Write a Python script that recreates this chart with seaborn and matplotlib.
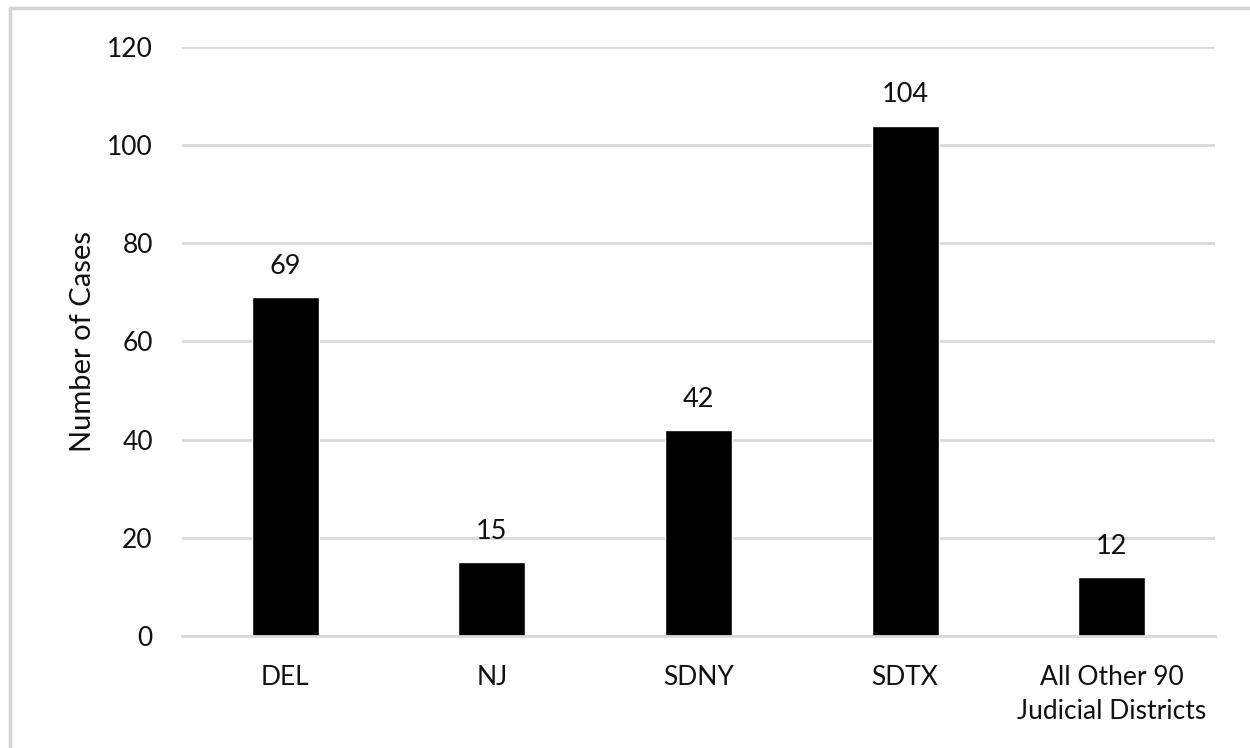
import matplotlib.pyplot as plt
import matplotlib.patches as patches
import seaborn as sns
import pandas as pd

# Dades
districtes = ['DEL', 'NJ', 'SDNY', 'SDTX', 'All Other 90\nJudicial Districts']
casos = [69, 15, 42, 104, 12]
ticks_y = [0, 20, 40, 60, 80, 100, 120]

df = pd.DataFrame({'Districte': districtes, 'Casos': casos})

sns.set_theme(style="white")
plt.rcParams['font.family'] = ['Lato', 'DejaVu Sans']

fig = plt.figure(figsize=(12.5, 7.48), dpi=100)
ax = fig.add_axes([0.1456, 0.1497, 0.8264, 0.7875])

sns.barplot(data=df, x='Districte', y='Casos', color='black',
            width=0.325, saturation=1, ax=ax)

ax.set_ylim(0, 120)
ax.set_yticks(ticks_y)
ax.yaxis.grid(True, color='#d9d9d9', linewidth=2)
ax.set_axisbelow(True)
for s in ['top', 'right', 'left']:
    ax.spines[s].set_visible(False)
ax.spines['bottom'].set_color('#d9d9d9')
ax.spines['bottom'].set_linewidth(2)

ax.tick_params(axis='y', length=0, pad=21, labelsize=19, labelcolor='#111111')
ax.tick_params(axis='x', length=0, pad=21, labelsize=19, labelcolor='#111111')
for lbl in ax.get_xticklabels():
    lbl.set_linespacing(1.45)

ax.set_xlabel('')
ax.set_ylabel('Number of Cases', fontsize=21, labelpad=8, color='#111111')

for container in ax.containers:
    ax.bar_label(container, padding=13, fontsize=19.5, color='#111111')

# marc gris exterior
fig.patches.append(patches.Rectangle((10 / 1250, -0.1), 1.2, 1 - 8 / 748 + 0.1,
                                     transform=fig.transFigure, fill=False,
                                     edgecolor='#d4d4d4', linewidth=2.5))

fig.savefig('out.png', dpi=100)
